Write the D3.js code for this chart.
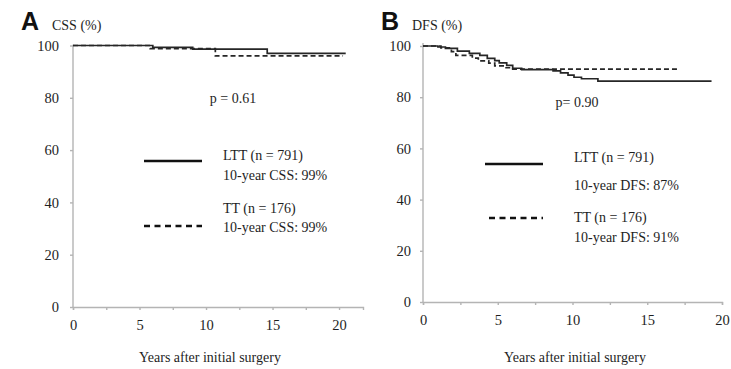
<!DOCTYPE html>
<html>
<head>
<meta charset="utf-8">
<script src="https://cdn.jsdelivr.net/npm/d3@7"></script>
<style>
  html, body { margin: 0; padding: 0; background: #fff; }
  svg { display: block; }
</style>
</head>
<body>
<svg id="chart" width="731" height="369"></svg>
<script>
// Kaplan–Meier step data: [years, survival %]
const cssLTT = [[0,100],[6,99.3],[9,98.6],[14.6,97.0],[20.5,97.0]];
const cssTT  = [[0,100],[5.8,98.8],[10.7,96.0],[20.3,96.0]];
const dfsLTT = [[0,100],[1,99.6],[1.5,99.1],[2.3,98],[3.1,97.1],[3.8,96.3],[4.3,95.2],[4.8,94.3],
                [5.1,93.4],[5.6,92.4],[6,91.3],[6.6,90.8],[8.7,90.3],[9.2,89.5],[9.7,88.6],
                [10.1,87.8],[10.6,87.2],[11.7,86.3],[19.3,86.3]];
const dfsTT  = [[0,100],[1.2,99.3],[1.9,97.8],[2.2,96.3],[3.3,95.3],[3.7,94.2],[4.4,93.3],
                [4.8,92.2],[5.5,91.5],[6,91],[17,91]];

const yTicks = [0, 20, 40, 60, 80, 100];
const xTicks = [0, 2.5, 5, 7.5, 10, 12.5, 15, 17.5, 20];
const xTitle = "Years after initial surgery";

const panels = [
  { letter: "A", yLabel: "CSS (%)", p: "p = 0.61", series: [cssLTT, cssTT],
    legend: [["LTT (n = 791)", "10-year CSS:  99%"], ["TT (n = 176)", "10-year CSS:  99%"]],
    xDom: [0, 21.8], xRange: [73, 363], yRange: [307, 45.5], yTop: 100.3,
    letterPos: [21, 30], yLabelPos: [52, 30], pPos: [233, 103], titleX: 210,
    legendLine: [[144, 202, 161], [144, 202, 226]],
    legendText: [[223, 160, 180], [223, 213, 232]], padY: 11 },
  { letter: "B", yLabel: "DFS (%)", p: "p= 0.90", series: [dfsLTT, dfsTT],
    legend: [["LTT (n = 791)", "10-year DFS:  87%"], ["TT (n = 176)", "10-year DFS:  91%"]],
    xDom: [0, 20], xRange: [423, 722], yRange: [302, 46], yTop: 101.2,
    letterPos: [381, 30], yLabelPos: [412, 30], pPos: [577, 107], titleX: 575,
    legendLine: [[485, 543, 164], [489, 543, 218]],
    legendText: [[574, 162, 190], [574, 222, 242]], padY: 9 }
];

const svg = d3.select("#chart");
const serif = "'Liberation Serif', 'Times New Roman', 'DejaVu Serif', serif";
const axisColor = "#b4b4b4";
const curveColor = "#262626";
const dashes = [null, "5,3"];

function serifText(sel, size) {
  return sel.style("font-family", serif).style("font-size", size + "px").attr("fill", "#1e1e1e");
}

panels.forEach(P => {
  const g = svg.append("g");
  const x = d3.scaleLinear().domain(P.xDom).range(P.xRange);
  const y = d3.scaleLinear().domain([0, 100]).range(P.yRange);

  // x axis
  const xa = g.append("g").attr("transform", `translate(0,${y(0)})`)
    .call(d3.axisBottom(x).tickValues(xTicks).tickSize(3).tickPadding(10)
      .tickFormat(d => d % 5 === 0 ? d : ""));
  // y axis
  const ya = g.append("g").attr("transform", `translate(${x(0)},0)`)
    .call(d3.axisLeft(y).tickValues(yTicks).tickSize(3).tickPadding(P.padY));
  ya.select(".domain").attr("d", `M0,${y(P.yTop)}V${y(0)}`);
  [xa, ya].forEach(a => {
    a.attr("font-family", null);
    a.selectAll(".domain, line").attr("stroke", axisColor).attr("stroke-width", 1.4);
    serifText(a.selectAll("text"), 14.5);
  });

  // survival curves
  const line = d3.line().x(d => x(d[0])).y(d => y(d[1])).curve(d3.curveStepAfter);
  P.series.forEach((s, i) => {
    g.append("path").datum(s).attr("d", line)
      .attr("fill", "none").attr("stroke", curveColor)
      .attr("stroke-width", 1.7)
      .attr("stroke-dasharray", dashes[i]);
  });

  // panel letter and y label
  g.append("text").attr("x", P.letterPos[0]).attr("y", P.letterPos[1])
    .text(P.letter).style("font-family", "'Liberation Sans', Arial, sans-serif")
    .style("font-weight", "bold").style("font-size", "25px").attr("fill", "#111");
  serifText(g.append("text").attr("x", P.yLabelPos[0]).attr("y", P.yLabelPos[1])
    .text(P.yLabel), 14);

  // p value
  serifText(g.append("text").attr("x", P.pPos[0]).attr("y", P.pPos[1])
    .attr("text-anchor", "middle").text(P.p), 14);

  // legend
  P.legendLine.forEach((L, i) => {
    g.append("line").attr("x1", L[0]).attr("x2", L[1]).attr("y1", L[2]).attr("y2", L[2])
      .attr("stroke", "#111").attr("stroke-width", 2.6)
      .attr("stroke-dasharray", i ? "6,4.5" : null);
    const T = P.legendText[i];
    serifText(g.append("text").attr("x", T[0]).attr("y", T[1]).text(P.legend[i][0]), 14);
    serifText(g.append("text").attr("x", T[0]).attr("y", T[2]).text(P.legend[i][1]), 14);
  });

  // x axis title
  serifText(g.append("text").attr("x", P.titleX).attr("y", 362)
    .attr("text-anchor", "middle").text(xTitle), 14);
});
</script>
</body>
</html>
